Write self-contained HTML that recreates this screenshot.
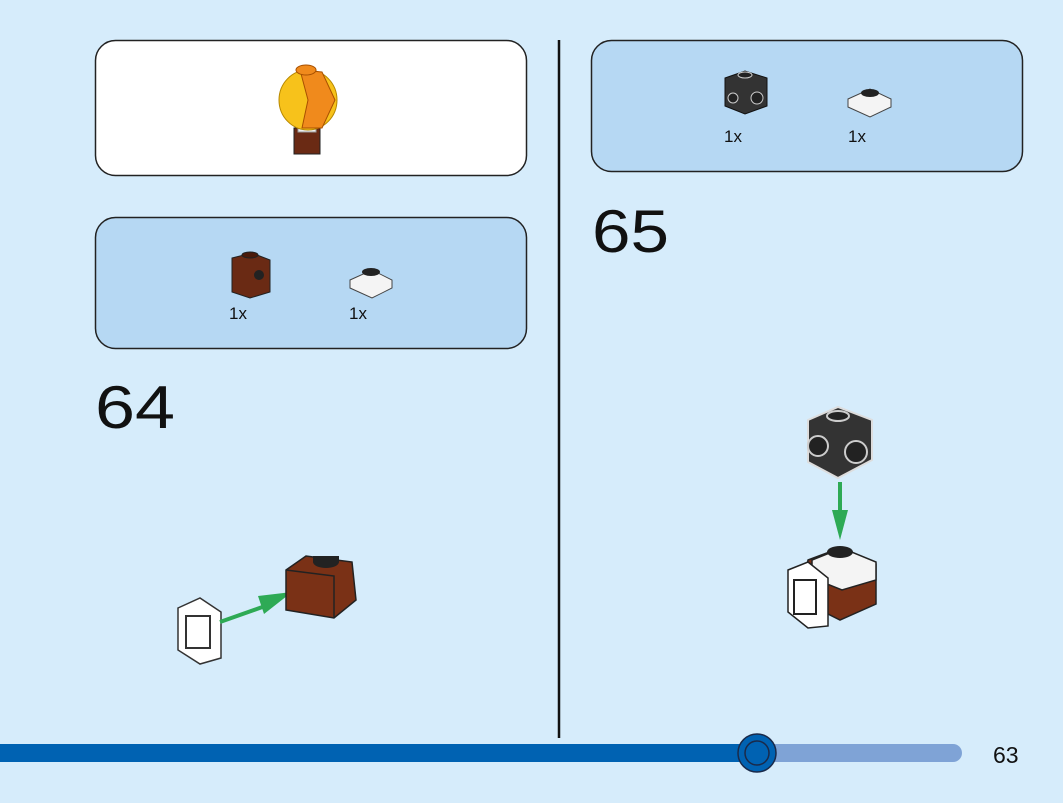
<!DOCTYPE html>
<html><head><meta charset="utf-8"><style>
html,body{margin:0;padding:0;background:#d6ecfb;}
svg{display:block}
text{font-family:"Liberation Sans",sans-serif;}
</style></head><body>
<svg width="1063" height="803" viewBox="0 0 1063 803" xmlns="http://www.w3.org/2000/svg">
<rect width="1063" height="803" fill="#d6ecfb"/>
<rect x="95.5" y="40.5" width="431" height="135" rx="20" fill="#fff" stroke="#222" stroke-width="1.5"/>
<rect x="95.5" y="217.5" width="431" height="131" rx="20" fill="#b6d8f3" stroke="#222" stroke-width="1.5"/>
<rect x="591.5" y="40.5" width="431" height="131" rx="20" fill="#b6d8f3" stroke="#222" stroke-width="1.5"/>
<line x1="559" y1="40" x2="559" y2="738" stroke="#111" stroke-width="2.5"/>
<g>
<rect x="294" y="128" width="26" height="26" fill="#6a2a14" stroke="#222"/>
<rect x="298" y="118" width="18" height="14" fill="#eee" stroke="#999"/>
<ellipse cx="308" cy="100" rx="29" ry="30" fill="#f7c21b" stroke="#b78800"/>
<path d="M300 70 L322 72 L335 100 L322 128 L302 128 L308 100 Z" fill="#f08a1c" stroke="#a85000"/>
<ellipse cx="306" cy="70" rx="10" ry="5" fill="#f08a1c" stroke="#a85000"/>
</g>
<g>
<path d="M232 258 L252 253 L270 260 L270 292 L250 298 L232 292 Z" fill="#6a2a14" stroke="#222"/>
<ellipse cx="250" cy="255" rx="8" ry="3" fill="#4a1a0a" stroke="#222"/>
<circle cx="259" cy="275" r="5" fill="#222"/>
<text x="229" y="319" font-size="17" fill="#111">1x</text>
<path d="M350 280 L372 270 L392 280 L392 288 L372 298 L350 288 Z" fill="#f4f4f4" stroke="#444"/>
<ellipse cx="371" cy="272" rx="9" ry="4" fill="#222"/>
<text x="349" y="319" font-size="17" fill="#111">1x</text>
</g>
<g>
<path d="M725 78 L745 71 L767 78 L767 106 L745 114 L725 106 Z" fill="#333" stroke="#111"/>
<circle cx="757" cy="98" r="6" fill="#222" stroke="#ccc"/>
<circle cx="733" cy="98" r="5" fill="#222" stroke="#ccc"/>
<ellipse cx="745" cy="75" rx="7" ry="3" fill="#222" stroke="#ccc"/>
<text x="724" y="142" font-size="17" fill="#111">1x</text>
<path d="M848 99 L870 89 L891 99 L891 107 L870 117 L848 107 Z" fill="#f4f4f4" stroke="#444"/>
<ellipse cx="870" cy="93" rx="9" ry="4" fill="#222"/>
<text x="848" y="142" font-size="17" fill="#111">1x</text>
</g>
<text x="95" y="428" font-size="60" fill="#111" textLength="80" lengthAdjust="spacingAndGlyphs">64</text>
<text x="592" y="252" font-size="60" fill="#111" textLength="77" lengthAdjust="spacingAndGlyphs">65</text>
<g>
<path d="M178 608 L200 598 L221 612 L221 658 L200 664 L178 650 Z" fill="#fff" stroke="#333" stroke-width="1.5"/>
<rect x="186" y="616" width="24" height="32" fill="none" stroke="#333" stroke-width="2"/>
<line x1="220" y1="622" x2="268" y2="605" stroke="#2eaa55" stroke-width="4"/>
<polygon points="258,596 292,592 264,614" fill="#2eaa55"/>
<path d="M286 570 L306 556 L352 562 L356 600 L334 618 L286 610 Z" fill="#7a3116" stroke="#222" stroke-width="1.5"/>
<path d="M286 570 L334 576 L334 618" fill="none" stroke="#222" stroke-width="1.5"/>
<ellipse cx="326" cy="562" rx="13" ry="6" fill="#222"/>
<rect x="313" y="556" width="26" height="6" fill="#222"/>
</g>
<g>
<path d="M808 420 L838 407 L872 420 L872 460 L838 478 L808 462 Z" fill="#333" stroke="#ddd" stroke-width="2"/>
<circle cx="856" cy="452" r="11" fill="#222" stroke="#ccc" stroke-width="2"/>
<circle cx="818" cy="446" r="10" fill="#222" stroke="#ccc" stroke-width="2"/>
<ellipse cx="838" cy="416" rx="11" ry="5" fill="#222" stroke="#ccc" stroke-width="2"/>
<line x1="840" y1="482" x2="840" y2="515" stroke="#2eaa55" stroke-width="4"/>
<polygon points="832,510 848,510 840,540" fill="#2eaa55"/>
<path d="M808 560 L840 548 L876 564 L876 604 L840 620 L800 600 Z" fill="#7a3116" stroke="#222" stroke-width="1.5"/>
<path d="M812 560 L842 548 L876 562 L876 580 L842 590 L812 578 Z" fill="#f4f4f4" stroke="#222" stroke-width="1.5"/>
<ellipse cx="840" cy="552" rx="13" ry="6" fill="#222"/>
<path d="M788 570 L808 562 L828 578 L828 626 L808 628 L788 612 Z" fill="#fff" stroke="#222" stroke-width="1.5"/>
<rect x="794" y="580" width="22" height="34" fill="none" stroke="#222" stroke-width="2"/>
</g>
<rect x="740" y="744" width="222" height="18" rx="9" fill="#7fa3d6"/>
<rect x="0" y="744" width="757" height="18" fill="#0062b2"/>
<circle cx="757" cy="753" r="19" fill="#0062b2" stroke="#1a2a4a" stroke-width="1.5"/>
<circle cx="757" cy="753" r="12" fill="none" stroke="#1a2a4a" stroke-width="1.5"/>
<text x="993" y="763" font-size="23" fill="#111">63</text>
</svg>
</body></html>
